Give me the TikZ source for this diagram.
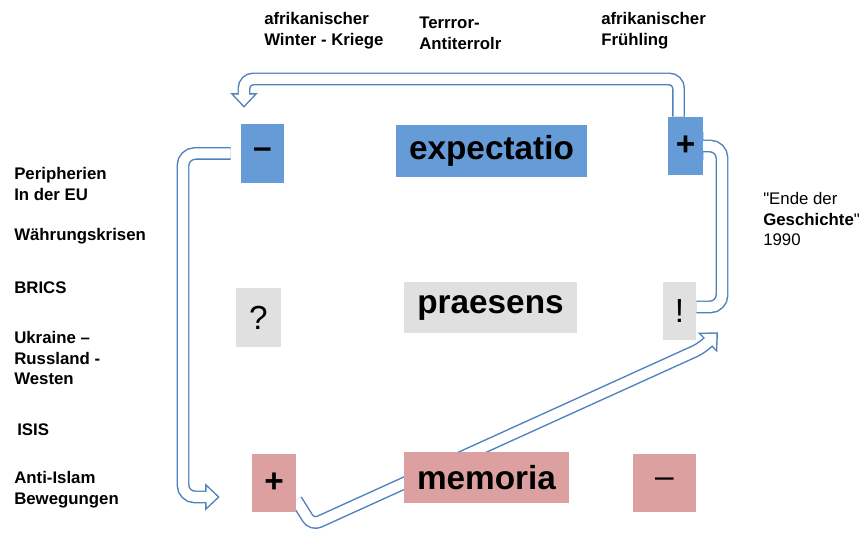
\documentclass[tikz,border=0pt]{standalone}
\usepackage{fontspec}
\setmainfont{Liberation Sans}
\usetikzlibrary{arrows.meta}
\usetikzlibrary{backgrounds}

\definecolor{boxblue}{RGB}{101,156,216}
\definecolor{boxgrey}{RGB}{224,224,224}
\definecolor{boxpink}{RGB}{221,160,160}
\definecolor{arrowblue}{RGB}{79,129,189}

\begin{document}
\begin{tikzpicture}
[x=0.75pt,y=-0.75pt,
 every node/.style={inner sep=0pt,font=\fontsize{12.6}{15.5}\selectfont\bfseries},
 side/.style={anchor=west,align=left},
 cell/.style={font=\fontsize{25}{30}\selectfont\bfseries},
 futbox/.style={cell,fill=boxblue},
 nowbox/.style={cell,fill=boxgrey},
 pastbox/.style={cell,fill=boxpink},
 loopouter/.style={draw=arrowblue,line width=9.7pt,rounded corners=9pt,
   -{Triangle[width=20pt,length=11pt]}},
 loopinner/.style={draw=white,line width=7.5pt,rounded corners=9pt,
   -{Triangle[width=15pt,length=8.3pt]},shorten >=1.6pt}]

  \useasboundingbox (0,0) rectangle (868,534);

  % expectatio row
  \node[futbox,minimum width=32.25pt,minimum height=44.25pt] (fminus) at (262.5,153.5) {–};
  \node[futbox,minimum width=143.25pt,minimum height=39pt] (expect) at (491.5,151) {expectatio};
  \node[futbox,minimum width=26.25pt,minimum height=43.5pt] (fplus) at (685.5,146) {+};
  % praesens row
  \node[nowbox,minimum width=33.75pt,minimum height=44.25pt,font=\fontsize{25}{30}\selectfont] (quest) at (258.5,317.5) {?};
  \node[nowbox,minimum width=129.75pt,minimum height=38.25pt] (praes) at (490.5,307.5) {praesens};
  \node[nowbox,minimum width=24.75pt,minimum height=43.5pt,font=\fontsize{25}{30}\selectfont] (excl) at (679.5,311) {!};
  % memoria row
  \node[pastbox,minimum width=33pt,minimum height=43.5pt] (pplus) at (274,483) {+};
  \node[pastbox,minimum width=123.75pt,minimum height=38.25pt] (memor) at (486.5,477.5) {memoria};
  \node[pastbox,minimum width=47.25pt,minimum height=43.5pt,font=\fontsize{25}{30}\selectfont] (pminus) at (664.5,483) {–};

  % labels
  \node[side] (peri) at (14,184) {Peripherien\\In der EU};
  \node[side] (wkrise) at (14,236) {Währungskrisen};
  \node[side] (brics) at (14,288) {BRICS};
  \node[side] (ukr) at (14,358) {Ukraine –\\Russland -\\Westen};
  \node[side] (isis) at (17,430) {ISIS};
  \node[side] (anti) at (14,490) {Anti-Islam\\Bewegungen};
  \node[side] (winter) at (264,31) {afrikanischer\\Winter - Kriege};
  \node[side] (terror) at (419,33) {Terrror-\\Antiterrolr};
  \node[side] (spring) at (601,31) {afrikanischer\\Frühling};
  \node[side,font=\fontsize{12.6}{15.5}\selectfont] (ende) at (763,219)
    {\textquotedbl Ende der\\\textbf{Geschichte}\textquotedbl\\1990};

  \coordinate (topbend) at (244,79);
  \coordinate (leftbend) at (183,497);
  \coordinate (rightbend) at (722,146);
  \coordinate (lowbend) at (312,525);
  \coordinate (tipbend) at (702,348);

  % block arrows: blue outline first, white core on top
  \begin{scope}[on background layer]
    \foreach \pen in {loopouter,loopinner} {
      \draw[\pen,rounded corners=7pt] ([xshift=-5.25pt]fplus.north) |- (topbend) -- ([xshift=-13.9pt,yshift=12pt]fminus.north);
      \draw[\pen] ([xshift=-7.5pt]fminus.west) -| (leftbend) -- ([xshift=-24pt,yshift=-10.5pt]pplus.west);
      \draw[\pen] ([yshift=3pt]excl.east) -| (rightbend) -- ([xshift=-11pt]fplus.east);
      \draw[\pen,rounded corners=6pt] ([yshift=-12.75pt]pplus.east) -- (lowbend) -- (tipbend) -- ([xshift=28.9pt,yshift=6pt]excl.south);
    }
  \end{scope}

\end{tikzpicture}
\end{document}
